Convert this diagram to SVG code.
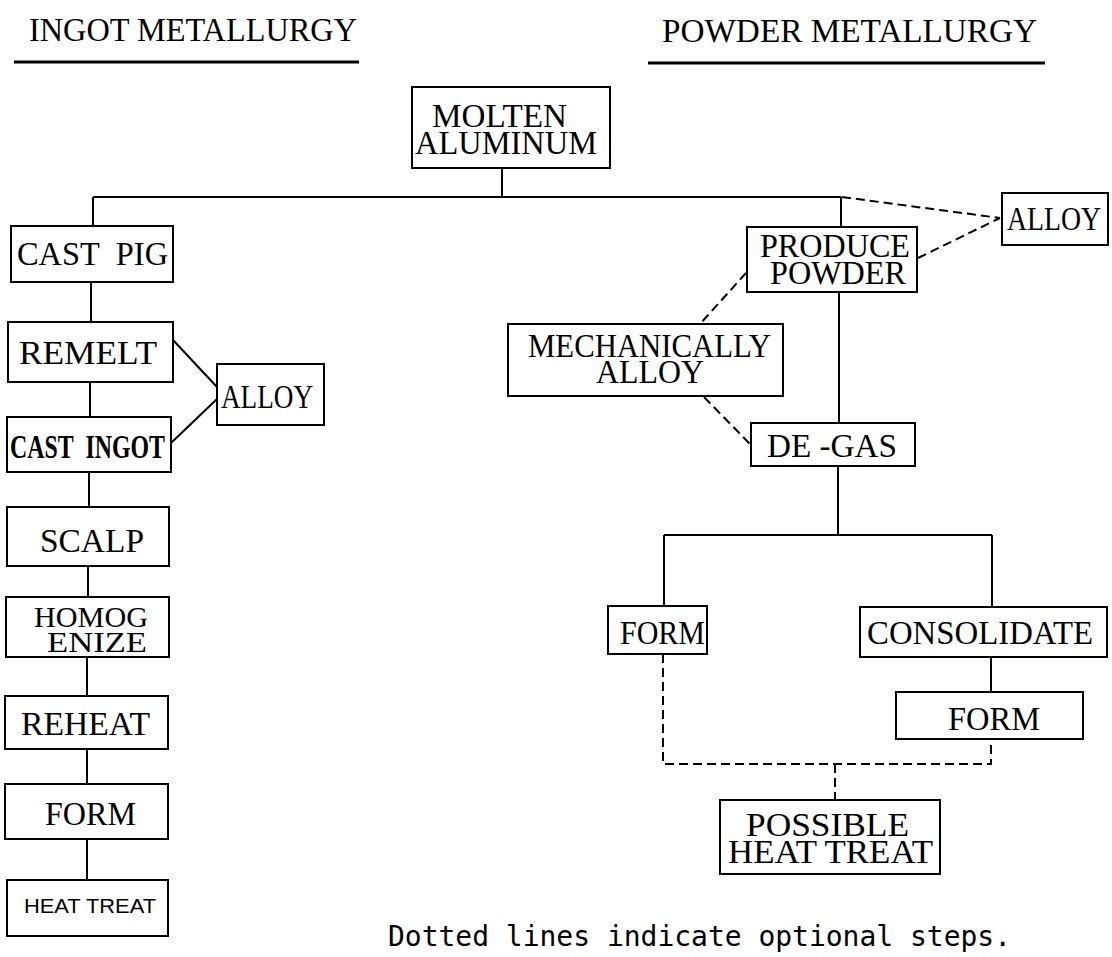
<svg xmlns="http://www.w3.org/2000/svg" width="1112" height="957" viewBox="0 0 1112 957">
<style>
  .bx { fill: #fff; stroke: #000; stroke-width: 2; }
  .t { font-family: "Liberation Serif", "Times New Roman", serif; font-size: 33px; fill: #000; }
  .s30 { font-size: 30px; }
  .ln { fill: none; stroke: #000; stroke-width: 2; }
  .dash { fill: none; stroke: #000; stroke-width: 2; stroke-dasharray: 9 5; }
  .ul { stroke: #000; stroke-width: 3; }
</style>
<rect width="1112" height="957" fill="#fff"/>

<g id="headings">
  <text class="t" x="29" y="41" textLength="328" lengthAdjust="spacingAndGlyphs">INGOT METALLURGY</text>
  <line class="ul" x1="14" y1="62" x2="359" y2="62"/>
  <text class="t" x="662" y="42" textLength="375" lengthAdjust="spacingAndGlyphs">POWDER METALLURGY</text>
  <line class="ul" x1="648" y1="63" x2="1045" y2="63"/>
</g>

<g id="connectors">
  <path class="ln" d="M502,168 V197"/>
  <path class="ln" d="M93,197 H841"/>
  <path class="ln" d="M93,197 V226"/>
  <path class="ln" d="M841,197 V227"/>
  <path class="ln" d="M91,282 V322"/>
  <path class="ln" d="M90,382 V417"/>
  <path class="ln" d="M89,472 V507"/>
  <path class="ln" d="M88,566 V597"/>
  <path class="ln" d="M87,657 V696"/>
  <path class="ln" d="M87,749 V784"/>
  <path class="ln" d="M87,839 V880"/>
  <path class="ln" d="M173,340 L217,387"/>
  <path class="ln" d="M171,443 L217,399"/>
  <path class="ln" d="M839,292 V423"/>
  <path class="ln" d="M838,466 V535"/>
  <path class="ln" d="M664,535 H992"/>
  <path class="ln" d="M664,535 V606"/>
  <path class="ln" d="M992,535 V607"/>
  <path class="ln" d="M991,657 V692"/>
  <path class="dash" d="M842,197 L1000,218"/>
  <path class="dash" d="M918,258 L1000,218"/>
  <path class="dash" d="M746,273 L700,324"/>
  <path class="dash" d="M704,397 L751,445"/>
  <path class="dash" d="M663,654 V764 H991 V739"/>
  <path class="dash" d="M835,764 V800"/>
</g>

<g id="molten">
  <rect class="bx" x="412" y="87" width="198" height="81"/>
  <text class="t" x="432" y="127" textLength="135" lengthAdjust="spacingAndGlyphs">MOLTEN</text>
  <text class="t" x="415" y="154" textLength="182" lengthAdjust="spacingAndGlyphs">ALUMINUM</text>
</g>
<g id="cast-pig">
  <rect class="bx" x="11" y="226" width="162" height="56"/>
  <text class="t" x="17" y="265" textLength="151" lengthAdjust="spacingAndGlyphs">CAST&#160; PIG</text>
</g>
<g id="remelt">
  <rect class="bx" x="8" y="322" width="165" height="60"/>
  <text class="t" x="19" y="364" textLength="138" lengthAdjust="spacingAndGlyphs">REMELT</text>
</g>
<g id="alloy-ingot">
  <rect class="bx" x="217" y="364" width="107" height="61"/>
  <text class="t" x="221" y="408" textLength="92" lengthAdjust="spacingAndGlyphs">ALLOY</text>
</g>
<g id="cast-ingot">
  <rect class="bx" x="7" y="417" width="164" height="55"/>
  <text class="t" x="10" y="458" font-size="27" font-weight="bold" textLength="155" lengthAdjust="spacingAndGlyphs">CAST&#160; INGOT</text>
</g>
<g id="scalp">
  <rect class="bx" x="7" y="507" width="162" height="59"/>
  <text class="t" x="40" y="552" textLength="104" lengthAdjust="spacingAndGlyphs">SCALP</text>
</g>
<g id="homogenize">
  <rect class="bx" x="6" y="597" width="163" height="60"/>
  <text class="t s30" x="34" y="627" textLength="114" lengthAdjust="spacingAndGlyphs">HOMOG</text>
  <text class="t s30" x="47" y="652" textLength="100" lengthAdjust="spacingAndGlyphs">ENIZE</text>
</g>
<g id="reheat">
  <rect class="bx" x="5" y="696" width="163" height="53"/>
  <text class="t" x="21" y="735" textLength="129" lengthAdjust="spacingAndGlyphs">REHEAT</text>
</g>
<g id="form-ingot">
  <rect class="bx" x="5" y="784" width="163" height="55"/>
  <text class="t" x="45" y="825" textLength="91" lengthAdjust="spacingAndGlyphs">FORM</text>
</g>
<g id="heat-treat-ingot">
  <rect class="bx" x="7" y="880" width="161" height="56"/>
  <text x="24" y="913" font-family="Liberation Sans, Arial, sans-serif" font-size="21" fill="#000" textLength="132" lengthAdjust="spacingAndGlyphs">HEAT TREAT</text>
</g>

<g id="produce-powder">
  <rect class="bx" x="747" y="227" width="170" height="65"/>
  <text class="t" x="760" y="257" textLength="150" lengthAdjust="spacingAndGlyphs">PRODUCE</text>
  <text class="t" x="770" y="284" textLength="136" lengthAdjust="spacingAndGlyphs">POWDER</text>
</g>
<g id="alloy-powder">
  <rect class="bx" x="1002" y="193" width="106" height="52"/>
  <text class="t" x="1007" y="230" textLength="94" lengthAdjust="spacingAndGlyphs">ALLOY</text>
</g>
<g id="mechanically-alloy">
  <rect class="bx" x="508" y="324" width="275" height="72"/>
  <text class="t" x="528" y="357" textLength="243" lengthAdjust="spacingAndGlyphs">MECHANICALLY</text>
  <text class="t" x="596" y="383" textLength="108" lengthAdjust="spacingAndGlyphs">ALLOY</text>
</g>
<g id="de-gas">
  <rect class="bx" x="751" y="423" width="164" height="43"/>
  <text class="t" x="767" y="457" textLength="130" lengthAdjust="spacingAndGlyphs">DE -GAS</text>
</g>
<g id="form-powder">
  <rect class="bx" x="608" y="606" width="99" height="48"/>
  <text class="t" x="620" y="644" textLength="85" lengthAdjust="spacingAndGlyphs">FORM</text>
</g>
<g id="consolidate">
  <rect class="bx" x="860" y="607" width="247" height="50"/>
  <text class="t" x="867" y="644" textLength="226" lengthAdjust="spacingAndGlyphs">CONSOLIDATE</text>
</g>
<g id="form-consolidated">
  <rect class="bx" x="896" y="692" width="187" height="47"/>
  <text class="t" x="948" y="730" textLength="92" lengthAdjust="spacingAndGlyphs">FORM</text>
</g>
<g id="possible-heat-treat">
  <rect class="bx" x="720" y="800" width="220" height="74"/>
  <text class="t" x="746" y="836" textLength="163" lengthAdjust="spacingAndGlyphs">POSSIBLE</text>
  <text class="t" x="728" y="863" textLength="205" lengthAdjust="spacingAndGlyphs">HEAT TREAT</text>
</g>

<g id="note">
  <text x="388" y="946" font-family="DejaVu Sans Mono, Liberation Mono, monospace" font-size="28" fill="#000" textLength="623" lengthAdjust="spacing">Dotted lines indicate optional steps.</text>
</g>
</svg>
